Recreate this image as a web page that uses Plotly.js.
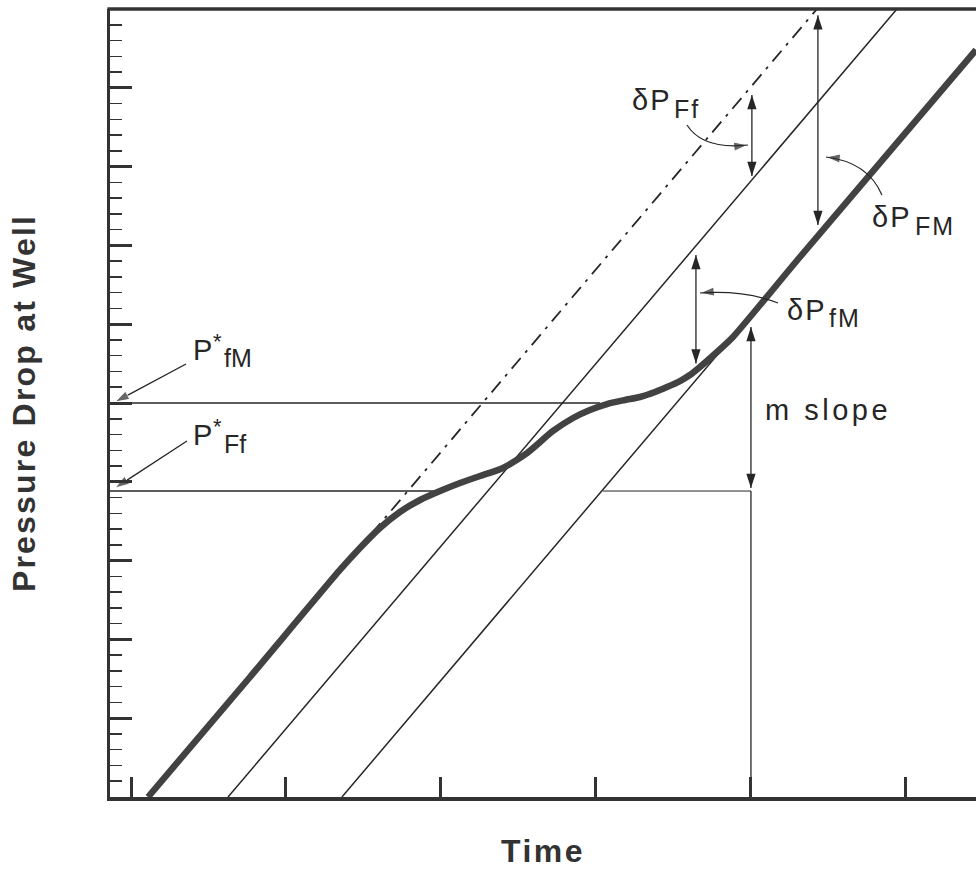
<!DOCTYPE html>
<html>
<head>
<meta charset="utf-8">
<script src="https://cdn.plot.ly/plotly-3.0.1.min.js"></script>
<style>html,body{margin:0;padding:0;background:#fff;overflow:hidden}#chart{width:976px;height:870px}</style>
</head>
<body>
<div id="chart"></div>
<script>
// ---- data (axis units: x = time ticks, y = pressure drop) ----
const xTicks = [0, 1, 2, 3, 4, 5];
const yTicks = [0, 1, 2, 3, 4, 5, 6, 7, 8, 9, 10];

// measured pressure-drop curve (thick)
const curveX = [0.110, 0.768, 1.348, 1.477, 1.606, 1.735, 1.865, 1.994, 2.123, 2.252, 2.400, 2.555, 2.723, 2.852, 2.961, 3.071, 3.187, 3.284, 3.381, 3.458, 3.542, 3.606, 3.671, 3.781, 3.884, 4.316, 5.452];
const curveY = [0.000, 1.523, 2.881, 3.160, 3.414, 3.617, 3.769, 3.883, 3.985, 4.074, 4.175, 4.365, 4.645, 4.810, 4.911, 4.987, 5.038, 5.076, 5.140, 5.203, 5.279, 5.355, 5.457, 5.647, 5.838, 6.853, 9.480];

// early-time straight line extension (dash-dot)
const earlyX = [1.550, 4.426];
const earlyY = [3.336, 10.0];
// intermediate straight line
const midX = [0.626, 4.942];
const midY = [0.0, 10.0];
// late-time straight line
const lateX = [1.361, 5.452];
const lateY = [0.0, 9.479];

// plateau levels P*fM and P*Ff
const pfmX = [-0.1355, 3.026];
const pfmY = [5.0, 5.0];
const pffX = [-0.1355, 1.994];
const pffY = [3.883, 3.883];

// m slope construction
const slopeBaseX = [3.045, 4.0];
const slopeBaseY = [3.883, 3.883];
const slopeStemX = [4.0, 4.0];
const slopeStemY = [3.883, 0.0];

// double-headed vertical arrows [top, bottom]
const dFfX = [4.006, 4.006], dFfY = [8.909, 7.881];
const dFMX = [4.432, 4.432], dFMY = [9.92, 7.26];
const dfMX = [3.645, 3.645], dfMY = [6.878, 5.50];
const mSlX = [4.0, 4.0],     mSlY = [5.964, 3.92];

// P* leader arrows [tail, tip]
const pfmArrX = [0.355, -0.103], pfmArrY = [5.495, 5.013];
const pffArrX = [0.361, -0.103], pffArrY = [4.518, 3.921];

// curved leader arrowheads [point before tip, tip]
const lFfX = [3.865, 3.981], lFfY = [8.249, 8.274];
const lFMX = [4.606, 4.484], lFMY = [8.096, 8.122];
const lfMX = [3.800, 3.671], lfMY = [6.421, 6.396];

// ---- styles ----
const INK = '#262626';
const FONT = 'Liberation Sans, Arial, Helvetica, sans-serif';
const HEAD = 15;

function line(x, y, extra) {
  return Object.assign({x: x, y: y, type: 'scatter', mode: 'lines', hoverinfo: 'skip',
    line: {color: INK, width: 1.5}}, extra || {});
}
function dbl(x, y) {
  return {x: x, y: y, type: 'scatter', mode: 'lines+markers', hoverinfo: 'skip', cliponaxis: false,
    line: {color: INK, width: 1.3},
    marker: {symbol: 'arrow', size: HEAD, angle: [0, 180], color: INK}};
}
function single(x, y, withLine) {
  return {x: x, y: y, type: 'scatter', mode: withLine ? 'lines+markers' : 'markers', hoverinfo: 'skip', cliponaxis: false,
    line: {color: INK, width: 1.3},
    marker: {symbol: 'arrow', size: [0, HEAD], angleref: 'previous', color: INK}};
}

const traces = [
  line(midX, midY),
  line(lateX, lateY),
  line(earlyX, earlyY, {line: {color: INK, width: 1.8, dash: '14px,7px,3px,7px'}}),
  line(pfmX, pfmY),
  line(pffX, pffY),
  line(slopeBaseX, slopeBaseY, {line: {color: INK, width: 1}}),
  line(slopeStemX, slopeStemY, {line: {color: INK, width: 1.3}}),
  line(curveX, curveY, {line: {color: '#424242', width: 6.5, shape: 'spline', smoothing: 0.6}}),
  dbl(dFfX, dFfY), dbl(dFMX, dFMY), dbl(dfMX, dfMY), dbl(mSlX, mSlY),
  single(pfmArrX, pfmArrY, true), single(pffArrX, pffArrY, true),
  single(lFfX, lFfY, false), single(lFMX, lFMY, false), single(lfMX, lfMY, false)
];

function sp(t, ls) {
  return '<span style="letter-spacing:' + ls + 'px">' + t + '</span>';
}
function lab(t, x, y, size, anchor) {
  return {text: t, x: x, y: y, xref: 'x', yref: 'y', showarrow: false, align: 'left',
    xanchor: anchor || 'left', yanchor: 'middle', font: {family: FONT, size: size || 29, color: INK}};
}

const annotations = [
  lab(sp('δP', 2), 3.219, 8.848),
  lab(sp('Ff', 2), 3.490, 8.728, 25),
  lab(sp('δP', 2), 4.768, 7.363),
  lab(sp('FM', 2), 5.045, 7.243, 25),
  lab(sp('δP', 2), 4.219, 6.183),
  lab(sp('fM', 2), 4.490, 6.075, 25),
  lab(sp('m slope', 3.5), 4.077, 4.911),
  lab('P', 0.387, 5.675),
  lab('*', 0.555, 5.775, 22, 'center'),
  lab('fM', 0.587, 5.568, 25),
  lab('P', 0.387, 4.596),
  lab('*', 0.555, 4.697, 22, 'center'),
  lab('Ff', 0.587, 4.477, 25)
];

const shapes = [
  {type: 'line', xref: 'paper', yref: 'paper', x0: -0.003, x1: 1.05, y0: 1, y1: 1, line: {color: '#333', width: 3.5}},
  {type: 'path', xref: 'x', yref: 'y', path: 'M3.587,8.528 Q3.690,8.211 3.981,8.274', line: {color: INK, width: 1.2}},
  {type: 'path', xref: 'x', yref: 'y', path: 'M4.845,7.640 Q4.755,8.058 4.484,8.122', line: {color: INK, width: 1.2}},
  {type: 'path', xref: 'x', yref: 'y', path: 'M4.174,6.269 Q3.961,6.434 3.671,6.396', line: {color: INK, width: 1.2}}
];

const layout = {
  width: 976, height: 870,
  margin: {l: 110, r: 0, t: 9, b: 73, pad: 0},
  paper_bgcolor: '#fff', plot_bgcolor: '#fff',
  showlegend: false,
  xaxis: {
    range: [-0.1355, 5.452], showline: true, linecolor: '#333', linewidth: 3.5,
    ticks: 'inside', ticklen: 20, tickwidth: 3, tickcolor: '#333', tickvals: xTicks,
    showticklabels: false, showgrid: false, zeroline: false, automargin: false, fixedrange: true,
    title: {text: '<b>' + sp('Time', 2.5) + '</b>', font: {family: FONT, size: 32, color: '#333'}, standoff: 41}
  },
  yaxis: {
    range: [0, 10], showline: true, linecolor: '#333', linewidth: 3.5,
    ticks: 'inside', ticklen: 22, tickwidth: 3, tickcolor: '#333', tickvals: yTicks,
    minor: {ticks: 'inside', ticklen: 12, tickwidth: 1.5, tickcolor: '#333', dtick: 0.2, tick0: 0, showgrid: false},
    showticklabels: false, showgrid: false, zeroline: false, automargin: false, fixedrange: true,
    title: {text: '<b>' + sp('Pressure Drop at Well', 2.2) + '</b>', font: {family: FONT, size: 32, color: '#333'}, standoff: 62}
  },
  shapes: shapes,
  annotations: annotations
};

Plotly.newPlot('chart', traces, layout, {displayModeBar: false, staticPlot: true});
</script>
</body>
</html>
